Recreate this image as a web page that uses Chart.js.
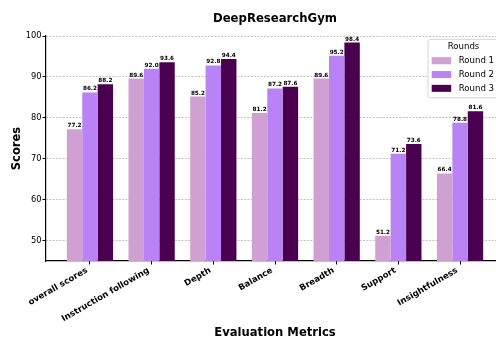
<!DOCTYPE html>
<html>
<head>
<meta charset="utf-8">
<script src="https://cdn.jsdelivr.net/npm/chart.js@4/dist/chart.umd.min.js"></script>
<style>
  html, body { margin: 0; padding: 0; background: #fff; overflow: hidden; }
  #wrap { width: 496px; height: 337px; overflow: hidden; position: relative; background: #fff; }
  canvas { display: block; }
</style>
</head>
<body>
<div id="wrap"><canvas id="c" width="510" height="337"></canvas></div>
<script>
// Metric names along the x axis
const categories = ['overall scores', 'Instruction following', 'Depth', 'Balance', 'Breadth', 'Support', 'Insightfulness'];

// Scores per round
const round1 = [77.2, 89.6, 85.2, 81.2, 89.6, 51.2, 66.4];
const round2 = [86.2, 92.0, 92.8, 87.2, 95.2, 71.2, 78.8];
const round3 = [88.2, 93.6, 94.4, 87.6, 98.4, 73.6, 81.6];

const seriesNames = ['Round 1', 'Round 2', 'Round 3'];
const seriesColors = ['#D0A0D2', '#B982F5', '#48004F'];

// Y axis tick values
const yTicks = [50, 60, 70, 80, 90, 100];

const FONT = '"DejaVu Sans", "Liberation Sans", sans-serif';

const toPoints = arr => arr.map((v, i) => ({ x: i, y: v }));

// Numbers printed above each bar
const valueLabels = {
  id: 'valueLabels',
  afterDatasetsDraw(chart) {
    const ctx = chart.ctx;
    ctx.save();
    ctx.font = 'bold 5.7px ' + FONT;
    ctx.textAlign = 'center';
    ctx.textBaseline = 'alphabetic';
    ctx.fillStyle = '#000';
    chart.data.datasets.forEach((ds, i) => {
      chart.getDatasetMeta(i).data.forEach((bar, j) => {
        ctx.fillText(ds.data[j].y.toFixed(1), bar.x, bar.y - 2);
      });
    });
    ctx.restore();
  }
};

// Framed legend in the upper right corner of the plot
const roundsLegend = {
  id: 'roundsLegend',
  afterDraw(chart) {
    const ctx = chart.ctx;
    const area = chart.chartArea;
    const boxW = 71, boxH = 58.5;
    const bx = area.right - 5 - boxW;
    const by = area.top + 3.3;
    ctx.save();
    // frame
    const r = 2.5;
    ctx.beginPath();
    ctx.moveTo(bx + r, by);
    ctx.lineTo(bx + boxW - r, by);
    ctx.arcTo(bx + boxW, by, bx + boxW, by + r, r);
    ctx.lineTo(bx + boxW, by + boxH - r);
    ctx.arcTo(bx + boxW, by + boxH, bx + boxW - r, by + boxH, r);
    ctx.lineTo(bx + r, by + boxH);
    ctx.arcTo(bx, by + boxH, bx, by + boxH - r, r);
    ctx.lineTo(bx, by + r);
    ctx.arcTo(bx, by, bx + r, by, r);
    ctx.closePath();
    ctx.fillStyle = 'rgba(255,255,255,0.8)';
    ctx.fill();
    ctx.strokeStyle = '#cccccc';
    ctx.lineWidth = 0.8;
    ctx.stroke();
    // title
    ctx.font = '8.6px ' + FONT;
    ctx.fillStyle = '#000';
    ctx.textBaseline = 'middle';
    ctx.textAlign = 'center';
    ctx.fillText('Rounds', bx + boxW / 2, by + 7.6);
    // entries
    ctx.textAlign = 'left';
    chart.data.datasets.forEach((ds, i) => {
      const cy = by + 21.4 + i * 13.8;
      ctx.fillStyle = ds.backgroundColor;
      ctx.fillRect(bx + 3.7, cy - 3.5, 19.5, 7);
      ctx.fillStyle = '#000';
      ctx.fillText(ds.label, bx + 30.7, cy);
    });
    ctx.restore();
  }
};

const datasets = [round1, round2, round3].map((arr, i) => ({
  label: seriesNames[i],
  data: toPoints(arr),
  backgroundColor: seriesColors[i],
  borderWidth: 0,
  categoryPercentage: 0.75,
  barPercentage: 1.0
}));

new Chart(document.getElementById('c'), {
  type: 'bar',
  data: { datasets },
  options: {
    responsive: false,
    animation: false,
    devicePixelRatio: 1,
    layout: { padding: { left: 0, right: 6, top: 0, bottom: 0 } },
    plugins: {
      legend: { display: false },
      tooltip: { enabled: false },
      title: {
        display: true,
        text: 'DeepResearchGym',
        fullSize: false,
        color: '#000',
        font: { family: FONT, size: 11.7, weight: 'bold', lineHeight: 1.2 },
        padding: { top: 12.3, bottom: 9.7 }
      }
    },
    scales: {
      x: {
        type: 'linear',
        min: -0.7125,
        max: 6.7125,
        offset: false,
        afterBuildTicks: s => { s.ticks = categories.map((_, i) => ({ value: i })); },
        afterFit: s => { s.height = 76; },
        ticks: {
          autoSkip: false,
          minRotation: 30,
          maxRotation: 30,
          padding: 1,
          labelOffset: -3,
          color: '#000',
          font: { family: FONT, size: 8.5, weight: 'bold' },
          callback: v => categories[v]
        },
        grid: {
          offset: false,
          drawOnChartArea: false,
          drawTicks: true,
          tickLength: 3.5,
          tickColor: '#000',
          tickWidth: 1
        },
        border: { display: true, color: '#000', width: 1.2 },
        title: {
          display: true,
          text: 'Evaluation Metrics',
          color: '#000',
          font: { family: FONT, size: 11.6, weight: 'bold', lineHeight: 1.2 },
          padding: { top: 0, bottom: -2.7 }
        }
      },
      y: {
        min: 45,
        max: 100,
        afterBuildTicks: s => { s.ticks = yTicks.map(v => ({ value: v })); },
        afterFit: s => { s.width = 46; },
        ticks: {
          padding: 1,
          color: '#000',
          font: { family: FONT, size: 8.3 }
        },
        grid: {
          color: 'rgba(0,0,0,0.3)',
          lineWidth: 0.8,
          drawTicks: true,
          tickLength: 3.5,
          tickColor: '#000',
          tickWidth: 1,
          tickBorderDash: []
        },
        border: { display: true, color: '#000', width: 1.2, dash: [2, 1.3] },
        title: {
          display: true,
          text: 'Scores',
          color: '#000',
          font: { family: FONT, size: 11.5, weight: 'bold', lineHeight: 1.2 },
          padding: { top: 10.6, bottom: 0 }
        }
      }
    }
  },
  plugins: [valueLabels, roundsLegend]
});
</script>
</body>
</html>
